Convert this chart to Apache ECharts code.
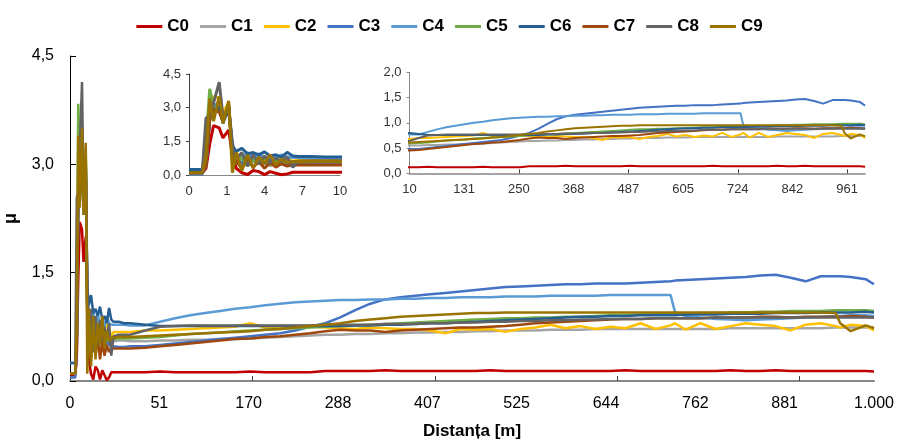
<!DOCTYPE html>
<html>
<head>
<meta charset="utf-8">
<script src="https://cdn.jsdelivr.net/npm/echarts@6/dist/echarts.min.js"></script>
<style>
  html, body { margin: 0; padding: 0; background: #fff; }
  #chart { width: 899px; height: 439px; }
</style>
</head>
<body>
<div id="chart"></div>
<script>
// Sample number of each measurement (dense sampling in the first 10 m)
const sampleIdx = [
  0, 7, 9, 11, 13, 16, 18, 21, 23, 25, 28, 31, 34, 37, 40, 43, 46, 49, 52, 55, 58, 65, 72,
  80, 100, 120, 140, 160, 180, 200, 220, 240, 260,
  280, 300, 320, 340, 360, 380, 400, 420, 440, 460,
  480, 500, 520, 540, 560, 580, 600, 620, 640, 660,
  680, 700, 720, 740, 760, 780, 800, 806, 820, 840,
  860, 880, 900, 920, 940, 960, 980, 1000, 1020, 1026,
  1040, 1060, 1071
];

// Friction coefficient per series
const c0 = [0.08, 0.08, 0.3, 1.4, 2.2, 2.1, 1.65, 2.0, 0.9, 0.3, 0.1, 0.02, 0.2, 0.15, 0.02, 0.15, 0.08, 0.01, 0.05, 0.12, 0.12, 0.12, 0.12,
  0.12, 0.12, 0.13, 0.12, 0.12, 0.12, 0.12, 0.12, 0.13, 0.12,
  0.12, 0.12, 0.12, 0.14, 0.14, 0.14, 0.14, 0.15, 0.14, 0.14,
  0.14, 0.14, 0.14, 0.14, 0.15, 0.14, 0.14, 0.14, 0.14, 0.14,
  0.14, 0.14, 0.14, 0.15, 0.14, 0.14, 0.14, 0.14, 0.14, 0.14,
  0.14, 0.15, 0.14, 0.14, 0.15, 0.14, 0.14, 0.14, 0.14, 0.14,
  0.14, 0.14, 0.13];
const c1 = [0.1, 0.1, 0.5, 2.6, 3.0, 3.1, 2.6, 3.0, 1.5, 0.6, 0.9, 0.4, 0.8, 0.5, 0.7, 0.4, 0.6, 0.5, 0.55, 0.5, 0.55, 0.56, 0.56,
  0.55, 0.55, 0.56, 0.56, 0.57, 0.57, 0.58, 0.58, 0.59, 0.60,
  0.61, 0.62, 0.63, 0.64, 0.64, 0.65, 0.65, 0.66, 0.66, 0.67,
  0.67, 0.68, 0.68, 0.69, 0.69, 0.70, 0.70, 0.70, 0.71, 0.71,
  0.71, 0.72, 0.72, 0.72, 0.72, 0.72, 0.72, 0.72, 0.72, 0.72,
  0.72, 0.73, 0.73, 0.73, 0.73, 0.73, 0.73, 0.73, 0.74, 0.74,
  0.74, 0.74, 0.74];
const c2 = [0.1, 0.1, 0.6, 3.0, 3.5, 3.4, 2.8, 3.2, 1.2, 1.0, 0.6, 0.95, 0.7, 0.9, 0.6, 0.85, 0.7, 0.8, 0.75, 0.6, 0.68, 0.68, 0.68,
  0.68, 0.70, 0.70, 0.71, 0.72, 0.73, 0.74, 0.75, 0.80, 0.74,
  0.74, 0.75, 0.75, 0.74, 0.73, 0.72, 0.74, 0.73, 0.72, 0.72,
  0.70, 0.66, 0.72, 0.71, 0.72, 0.68, 0.72, 0.74, 0.78, 0.73,
  0.76, 0.72, 0.75, 0.73, 0.80, 0.72, 0.77, 0.80, 0.71, 0.80,
  0.72, 0.76, 0.80, 0.78, 0.76, 0.70, 0.78, 0.80, 0.76, 0.74,
  0.78, 0.76, 0.70];
const c3 = [0.05, 0.05, 0.4, 2.5, 3.0, 3.1, 2.3, 3.0, 1.2, 0.8, 0.5, 0.9, 0.6, 0.8, 0.5, 0.7, 0.45, 0.6, 0.5, 0.5, 0.48, 0.47, 0.47,
  0.48, 0.48, 0.50, 0.52, 0.54, 0.56, 0.58, 0.60, 0.62, 0.64,
  0.66, 0.70, 0.75, 0.80, 0.88, 0.98, 1.07, 1.13, 1.16, 1.18,
  1.20, 1.22, 1.24, 1.26, 1.28, 1.30, 1.31, 1.32, 1.33, 1.34,
  1.34, 1.35, 1.35, 1.35, 1.36, 1.37, 1.38, 1.39, 1.40, 1.41,
  1.42, 1.43, 1.44, 1.46, 1.47, 1.43, 1.38, 1.45, 1.45, 1.45,
  1.44, 1.41, 1.34];
const c4 = [0.25, 0.25, 0.6, 2.6, 3.1, 3.2, 2.5, 3.0, 1.3, 0.9, 0.7, 1.0, 0.75, 0.95, 0.7, 0.85, 0.75, 0.9, 0.8, 0.78, 0.78, 0.78, 0.78,
  0.77, 0.77, 0.82, 0.87, 0.91, 0.94, 0.97, 1.00, 1.02, 1.05,
  1.07, 1.09, 1.10, 1.11, 1.12, 1.12, 1.13, 1.13, 1.14, 1.14,
  1.15, 1.15, 1.16, 1.16, 1.16, 1.17, 1.17, 1.17, 1.18, 1.18,
  1.18, 1.18, 1.19, 1.19, 1.19, 1.19, 1.19, 0.95, 0.90, 0.88,
  0.86, 0.85, 0.84, 0.85, 0.86, 0.87, 0.88, 0.89, 0.90, 0.90,
  0.91, 0.91, 0.90];
const c5 = [0.1, 0.1, 1.5, 3.84, 3.0, 2.9, 2.4, 3.2, 1.0, 0.5, 0.8, 0.4, 0.7, 0.5, 0.8, 0.45, 0.65, 0.55, 0.6, 0.55, 0.58, 0.59, 0.59,
  0.59, 0.60, 0.61, 0.63, 0.65, 0.66, 0.67, 0.69, 0.70, 0.71,
  0.72, 0.73, 0.74, 0.75, 0.76, 0.77, 0.78, 0.79, 0.80, 0.81,
  0.82, 0.83, 0.84, 0.85, 0.86, 0.87, 0.87, 0.88, 0.88, 0.89,
  0.89, 0.90, 0.91, 0.91, 0.92, 0.92, 0.93, 0.93, 0.93, 0.94,
  0.94, 0.95, 0.95, 0.96, 0.96, 0.97, 0.97, 0.97, 0.98, 0.98,
  0.98, 0.98, 0.97];
const c6 = [0.25, 0.25, 0.5, 2.5, 2.9, 3.0, 2.4, 2.9, 1.3, 1.05, 1.19, 0.94, 1.0, 0.9, 1.03, 0.85, 0.9, 0.8, 1.01, 0.85, 0.82, 0.82, 0.8,
  0.80, 0.78, 0.76, 0.76, 0.76, 0.76, 0.76, 0.76, 0.76, 0.76,
  0.76, 0.76, 0.76, 0.76, 0.76, 0.77, 0.77, 0.78, 0.78, 0.79,
  0.80, 0.80, 0.81, 0.82, 0.83, 0.84, 0.85, 0.86, 0.87, 0.88,
  0.89, 0.89, 0.90, 0.90, 0.91, 0.91, 0.91, 0.91, 0.92, 0.92,
  0.92, 0.93, 0.93, 0.93, 0.94, 0.94, 0.94, 0.95, 0.95, 0.95,
  0.95, 0.96, 0.95];
const c7 = [0.1, 0.1, 0.4, 2.5, 2.9, 2.8, 2.4, 3.1, 1.0, 0.6, 0.3, 0.7, 0.35, 0.6, 0.3, 0.55, 0.35, 0.5, 0.4, 0.45, 0.45, 0.45, 0.45,
  0.45, 0.46, 0.48, 0.50, 0.52, 0.54, 0.56, 0.58, 0.59, 0.61,
  0.62, 0.64, 0.66, 0.69, 0.71, 0.70, 0.70, 0.68, 0.70, 0.71,
  0.72, 0.73, 0.74, 0.74, 0.75, 0.76, 0.78, 0.80, 0.81, 0.82,
  0.83, 0.84, 0.85, 0.86, 0.86, 0.87, 0.87, 0.87, 0.87, 0.87,
  0.88, 0.88, 0.88, 0.89, 0.89, 0.88, 0.89, 0.89, 0.89, 0.89,
  0.90, 0.89, 0.88];
const c8 = [0.1, 0.1, 2.54, 2.6, 3.2, 4.14, 2.6, 3.0, 1.2, 0.7, 1.0, 0.4, 0.9, 0.5, 0.85, 0.55, 0.75, 0.6, 0.8, 0.35, 0.62, 0.64, 0.64,
  0.64, 0.70, 0.75, 0.76, 0.77, 0.77, 0.77, 0.77, 0.77, 0.77,
  0.77, 0.77, 0.77, 0.78, 0.78, 0.78, 0.78, 0.79, 0.79, 0.79,
  0.80, 0.80, 0.81, 0.81, 0.82, 0.82, 0.83, 0.83, 0.84, 0.84,
  0.85, 0.85, 0.86, 0.86, 0.86, 0.87, 0.87, 0.87, 0.87, 0.87,
  0.88, 0.88, 0.88, 0.88, 0.88, 0.88, 0.88, 0.88, 0.88, 0.88,
  0.88, 0.88, 0.88];
const c9 = [0.1, 0.1, 0.8, 3.4, 2.4, 3.5, 2.3, 3.3, 0.1, 1.0, 0.2, 0.9, 0.3, 0.8, 0.5, 0.9, 0.45, 0.7, 0.55, 0.6, 0.6, 0.61, 0.61,
  0.61, 0.62, 0.63, 0.64, 0.65, 0.66, 0.67, 0.68, 0.69, 0.71,
  0.72, 0.74, 0.76, 0.78, 0.80, 0.83, 0.85, 0.87, 0.89, 0.90,
  0.91, 0.92, 0.93, 0.94, 0.94, 0.95, 0.95, 0.95, 0.95, 0.95,
  0.95, 0.95, 0.95, 0.95, 0.95, 0.95, 0.95, 0.95, 0.95, 0.95,
  0.95, 0.95, 0.95, 0.95, 0.95, 0.95, 0.95, 0.95, 0.94, 0.80,
  0.69, 0.77, 0.73];

const seriesNames = ['C0', 'C1', 'C2', 'C3', 'C4', 'C5', 'C6', 'C7', 'C8', 'C9'];
const seriesValues = [c0, c1, c2, c3, c4, c5, c6, c7, c8, c9];
const seriesColors = ['#C00000', '#A5A5A5', '#FFC000', '#4472C4', '#5B9BD5',
                      '#70AD47', '#255E91', '#9E480E', '#636363', '#997300'];

// Distance labels and the sample numbers they belong to
const mainLabelIdx = [0, 119, 238, 357, 476, 595, 714, 833, 952, 1071];
const mainLabels = ['0', '51', '170', '288', '407', '525', '644', '762', '881', '1.000'];
const mainTickIdx = [243, 486, 729, 972];
const startLabelIdx = [0, 20, 40, 60, 80];
const startLabels = ['0', '1', '4', '7', '10'];
const restLabelIdx = [80, 199, 318, 437, 556, 675, 794, 913, 1032];
const restLabels = ['10', '131', '250', '368', '487', '605', '724', '842', '961'];
const restTickIdx = [318, 556, 794, 1032];

const FONT = "'Liberation Sans', Arial, sans-serif";
const comma = v => v.toFixed(1).replace('.', ',');
const lookup = (idx, labels) => v => { const k = idx.indexOf(v); return k < 0 ? '' : labels[k]; };

const grids = [
  { left: 70, top: 56, width: 804, height: 325, outerBoundsMode: 'none', containLabel: false },
  { left: 189, top: 74, width: 151, height: 101, outerBoundsMode: 'none', containLabel: false },
  { left: 409.5, top: 72.3, width: 455.6, height: 101, outerBoundsMode: 'none', containLabel: false }
];

const xAxes = [
  {
    gridIndex: 0, type: 'value', min: 0, max: 1071,
    axisLine: { show: true, lineStyle: { color: '#868686', width: 2 } },
    axisTick: { show: true, inside: true, length: 5, customValues: mainTickIdx, lineStyle: { color: '#404040' } },
    axisLabel: { customValues: mainLabelIdx, formatter: lookup(mainLabelIdx, mainLabels),
                 fontFamily: FONT, fontSize: 16, color: '#000', margin: 15 },
    splitLine: { show: false },
    name: 'Distanța [m]', nameLocation: 'middle', nameGap: 42,
    nameTextStyle: { fontFamily: FONT, fontSize: 17, fontWeight: 'bold', color: '#000' }
  },
  {
    gridIndex: 1, type: 'value', min: 0, max: 80,
    axisLine: { show: true, lineStyle: { color: '#868686', width: 1 } },
    axisTick: { show: false },
    axisLabel: { customValues: startLabelIdx, formatter: lookup(startLabelIdx, startLabels),
                 fontFamily: FONT, fontSize: 13, color: '#333', margin: 10 },
    splitLine: { show: false }
  },
  {
    gridIndex: 2, type: 'value', min: 80, max: 1071,
    axisLine: { show: true, lineStyle: { color: '#868686', width: 1.5 } },
    axisTick: { show: true, inside: true, length: 4, customValues: restTickIdx, lineStyle: { color: '#404040' } },
    axisLabel: { customValues: restLabelIdx, formatter: lookup(restLabelIdx, restLabels),
                 fontFamily: FONT, fontSize: 13, color: '#333', margin: 10 },
    splitLine: { show: false }
  }
];

const yAxes = [
  {
    gridIndex: 0, type: 'value', min: 0, max: 4.5, interval: 1.5,
    axisLine: { show: true, lineStyle: { color: '#000', width: 1 } },
    axisTick: { show: true, inside: true, length: 6, lineStyle: { color: '#000' } },
    axisLabel: { formatter: comma, fontFamily: FONT, fontSize: 16, color: '#000', margin: 16 },
    splitLine: { show: false },
    name: 'μ', nameLocation: 'middle', nameGap: 50, nameRotate: 90,
    nameTextStyle: { fontFamily: FONT, fontSize: 18, fontWeight: 'bold', color: '#000' }
  },
  {
    gridIndex: 1, type: 'value', min: 0, max: 4.5, interval: 1.5,
    axisLine: { show: true, lineStyle: { color: '#404040', width: 1 } },
    axisTick: { show: true, length: 3, lineStyle: { color: '#404040' } },
    axisLabel: { formatter: comma, fontFamily: FONT, fontSize: 13, color: '#333', margin: 8 },
    splitLine: { show: false }
  },
  {
    gridIndex: 2, type: 'value', min: 0, max: 2, interval: 0.5,
    axisLine: { show: true, lineStyle: { color: '#868686', width: 1 } },
    axisTick: { show: true, length: 3, lineStyle: { color: '#868686' } },
    axisLabel: { formatter: comma, fontFamily: FONT, fontSize: 13, color: '#333', margin: 8 },
    splitLine: { show: false }
  }
];

const lineWidths = [2.5, 3, 2];
const series = [];
grids.forEach((g, gi) => {
  seriesValues.forEach((vals, si) => {
    series.push({
      name: seriesNames[si],
      type: 'line',
      xAxisIndex: gi,
      yAxisIndex: gi,
      data: sampleIdx.map((x, j) => [x, vals[j]]),
      showSymbol: false,
      symbol: 'none',
      clip: true,
      silent: true,
      color: seriesColors[si],
      lineStyle: { width: lineWidths[gi], color: seriesColors[si] }
    });
  });
});

const chart = echarts.init(document.getElementById('chart'), null, { renderer: 'canvas' });
chart.setOption({
  animation: false,
  backgroundColor: '#fff',
  legend: {
    top: 13, left: 'center',
    data: seriesNames,
    icon: 'rect', itemWidth: 26, itemHeight: 3, itemGap: 11,
    textStyle: { fontFamily: FONT, fontSize: 17, fontWeight: 'bold', color: '#000' }
  },
  grid: grids,
  xAxis: xAxes,
  yAxis: yAxes,
  series: series
});
</script>
</body>
</html>
